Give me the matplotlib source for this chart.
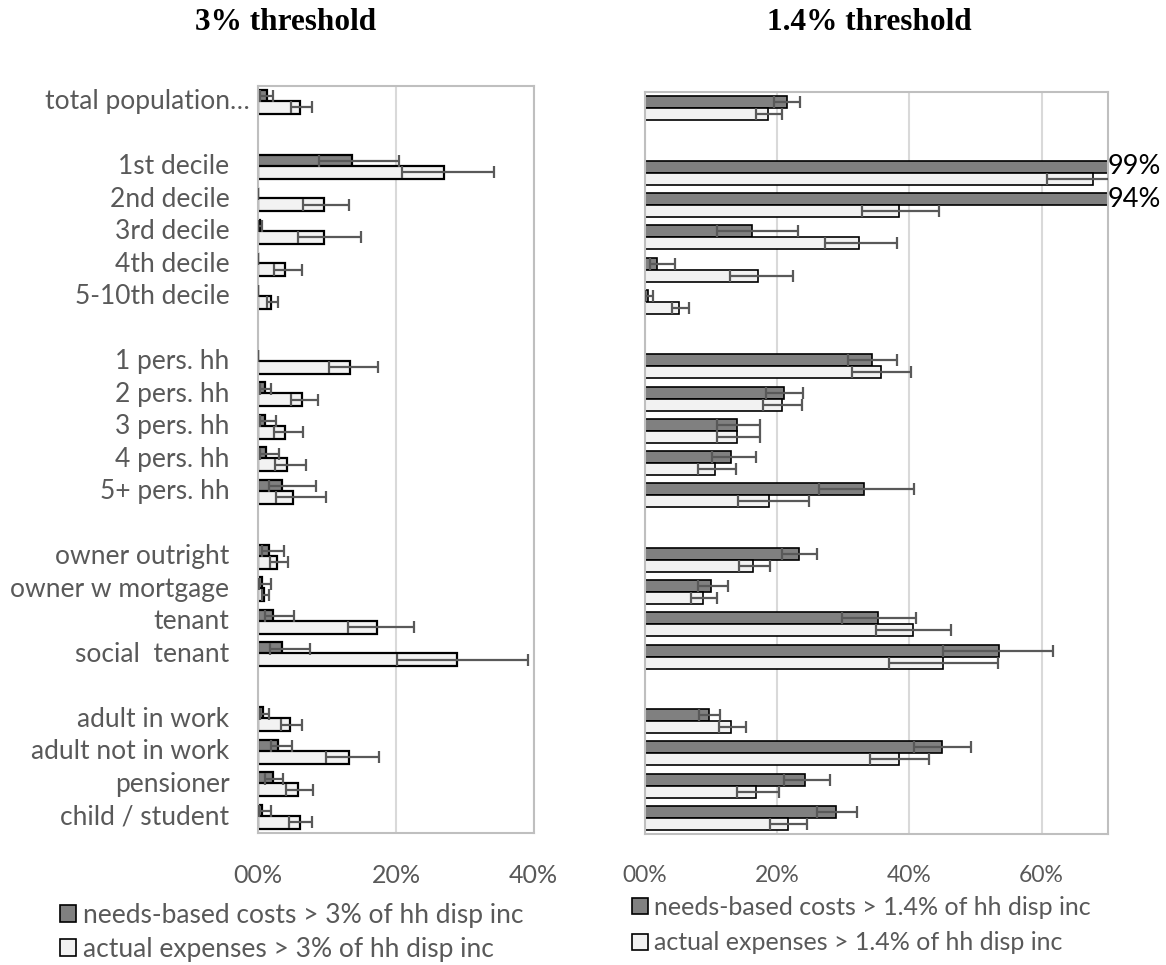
import numpy as np
import matplotlib
matplotlib.use("Agg")
import matplotlib.pyplot as plt
from matplotlib.patches import Patch
import matplotlib.transforms as mtransforms

# ---------------- data ----------------
categories = ["total population…", "", "1st decile", "2nd decile", "3rd decile",
              "4th decile", "5-10th decile", "", "1 pers. hh", "2 pers. hh",
              "3 pers. hh", "4 pers. hh", "5+ pers. hh", "", "owner outright",
              "owner w mortgage", "tenant", "social  tenant", "", "adult in work",
              "adult not in work", "pensioner", "child / student"]
nan = np.nan

# 3% threshold (percent)
needs_3    = [1.2, nan, 13.6, 0.0, 0.2, 0.0, 0.0, nan, 0.0, 1.0, 1.0, 1.1, 3.5, nan, 1.5, 0.5, 2.2, 3.5, nan, 0.7, 2.9, 2.1, 0.6]
needs_3_lo = [0.3, nan, 8.8, 0.0, 0.0, 0.0, 0.0, nan, 0.0, 0.3, 0.3, 0.3, 1.5, nan, 0.5, 0.1, 1.0, 1.7, nan, 0.2, 1.8, 1.0, 0.1]
needs_3_hi = [2.2, nan, 20.4, 0.0, 0.6, 0.0, 0.0, nan, 0.0, 1.9, 2.6, 3.0, 8.4, nan, 3.7, 1.9, 5.2, 7.5, nan, 1.6, 4.9, 3.6, 1.9]
actual_3    = [6.1, nan, 27.0, 9.5, 9.5, 3.9, 1.85, nan, 13.3, 6.4, 3.9, 4.2, 5.1, nan, 2.7, 0.8, 17.2, 28.9, nan, 4.6, 13.2, 5.7, 6.0]
actual_3_lo = [4.7, nan, 20.8, 6.5, 5.8, 2.3, 1.3, nan, 10.2, 4.7, 2.3, 2.4, 2.6, nan, 1.7, 0.5, 13.0, 20.1, nan, 3.3, 9.8, 4.0, 4.5]
actual_3_hi = [7.8, nan, 34.3, 13.2, 14.9, 6.3, 2.9, nan, 17.4, 8.6, 6.5, 6.9, 9.8, nan, 4.3, 1.6, 22.6, 39.2, nan, 6.4, 17.6, 8.0, 7.8]

# 1.4% threshold (percent)
needs_14    = [21.5, nan, 99.0, 94.0, 16.2, 1.9, 0.45, nan, 34.4, 21.1, 13.9, 13.1, 33.2, nan, 23.3, 10.0, 35.3, 53.5, nan, 9.7, 45.0, 24.2, 28.9]
needs_14_lo = [19.6, nan, 99.0, 94.0, 10.9, 0.8, 0.1, nan, 30.8, 18.3, 11.0, 10.2, 26.4, nan, 20.7, 8.0, 29.9, 45.1, nan, 8.2, 40.7, 21.0, 26.0]
needs_14_hi = [23.5, nan, 99.0, 94.0, 23.2, 4.6, 1.3, nan, 38.1, 24.0, 17.4, 16.8, 40.7, nan, 26.1, 12.6, 41.0, 61.7, nan, 11.4, 49.3, 28.0, 32.1]
actual_14    = [18.7, nan, 67.8, 38.5, 32.4, 17.2, 5.2, nan, 35.7, 20.7, 13.9, 10.6, 18.8, nan, 16.4, 8.8, 40.5, 45.1, nan, 13.0, 38.4, 16.9, 21.6]
actual_14_lo = [16.8, nan, 60.8, 32.8, 27.3, 12.9, 4.1, nan, 31.4, 17.9, 11.0, 8.1, 14.1, nan, 14.3, 7.0, 35.0, 37.0, nan, 11.3, 34.0, 14.0, 19.0]
actual_14_hi = [20.8, nan, 75.0, 44.5, 38.1, 22.4, 6.7, nan, 40.3, 23.8, 17.4, 13.8, 24.9, nan, 18.9, 11.0, 46.3, 53.4, nan, 15.3, 43.0, 20.3, 24.6]

ticks_3 = [0, 20, 40]
ticklabels_3 = ["00%", "20%", "40%"]
ticks_14 = [0, 20, 40, 60]
ticklabels_14 = ["00%", "20%", "40%", "60%"]

titles = ["3% threshold", "1.4% threshold"]
legend_3 = ["needs-based costs > 3% of hh disp inc", "actual expenses > 3% of hh disp inc"]
legend_14 = ["needs-based costs > 1.4% of hh disp inc", "actual expenses > 1.4% of hh disp inc"]

# ---------------- style ----------------
FONT = "Lato"
TXT = "#595959"
DARK = "#808080"
LIGHT = "#f2f2f2"

fig = plt.figure(figsize=(11.66, 9.65), dpi=100)

ax1 = fig.add_axes([258.3 / 1166, 1 - 833 / 965, (533.7 - 258.3) / 1166, (833 - 85.7) / 965])
ax2 = fig.add_axes([644.7 / 1166, 1 - 834 / 965, (1107.7 - 644.7) / 1166, (834 - 92.3) / 965])


def panel(ax, needs, nlo, nhi, act, alo, ahi, xmax, ticks, ticklabels, bh, off, lw, tfs, vfs):
    y = np.arange(len(categories))
    needs = np.array(needs, float); nlo = np.array(nlo, float); nhi = np.array(nhi, float)
    act = np.array(act, float); alo = np.array(alo, float); ahi = np.array(ahi, float)
    m = ~np.isnan(needs)
    ax.barh(y[m] - off, needs[m], height=bh, color=DARK, edgecolor="black", linewidth=lw, zorder=2)
    ax.barh(y[m] + off, act[m], height=bh, color=LIGHT, edgecolor="black", linewidth=lw, zorder=2)
    ax.errorbar(needs[m], y[m] - off, xerr=[needs[m] - nlo[m], nhi[m] - needs[m]], fmt="none",
                ecolor=TXT, elinewidth=1.6, capsize=4.5, capthick=1.6, zorder=3)
    ax.errorbar(act[m], y[m] + off, xerr=[act[m] - alo[m], ahi[m] - act[m]], fmt="none",
                ecolor=TXT, elinewidth=1.6, capsize=4.5, capthick=1.6, zorder=3)
    ax.set_xlim(0, xmax)
    ax.set_ylim(len(categories) - 0.5, -0.5)
    ax.set_xticks(ticks)
    ax.set_xticklabels(ticklabels, fontsize=tfs, color=TXT, fontfamily=FONT)
    ax.tick_params(axis="x", length=0, pad=22)
    ax.set_yticks([])
    ax.grid(axis="x", color="#d9d9d9", linewidth=1.5, zorder=0)
    ax.set_axisbelow(True)
    for s in ax.spines.values():
        s.set_color("#bfbfbf")
        s.set_linewidth(1.5)
    # value labels for bars exceeding the axis
    for yi, v in zip(y[m] - off, needs[m]):
        if v > xmax:
            ax.text(xmax, yi, f"{v:.0f}%", va="center", ha="left", fontsize=vfs,
                    color="black", fontfamily=FONT, clip_on=False)


panel(ax1, needs_3, needs_3_lo, needs_3_hi, actual_3, actual_3_lo, actual_3_hi,
      40, ticks_3, ticklabels_3, 0.40, 0.17, 1.6, 18, 19)
panel(ax2, needs_14, needs_14_lo, needs_14_hi, actual_14, actual_14_lo, actual_14_hi,
      70, ticks_14, ticklabels_14, 0.37, 0.185, 1.2, 16.5, 19.5)

# category labels on the left panel
for i, lab in enumerate(categories):
    if not lab:
        continue
    dx = -9 if lab.endswith("…") else -29
    tr = mtransforms.offset_copy(ax1.get_yaxis_transform(), fig=fig, x=dx * 0.72, y=0, units="points")
    ax1.text(0, i, lab, transform=tr, ha="right", va="center", fontsize=19,
             color=TXT, fontfamily=FONT)

# titles
fig.text(286 / 1166, 1 - 22 / 965, titles[0], ha="center", va="center", fontsize=22.5,
         fontweight="bold", fontfamily="Liberation Serif")
fig.text(869 / 1166, 1 - 22 / 965, titles[1], ha="center", va="center", fontsize=22.5,
         fontweight="bold", fontfamily="Liberation Serif")

# legends
handles = [Patch(facecolor=DARK, edgecolor="black", linewidth=1.2),
           Patch(facecolor=LIGHT, edgecolor="black", linewidth=1.2)]


def leg_kw(fs, ls):
    return dict(frameon=False, handlelength=0.62, handleheight=0.62, handletextpad=0.28,
                labelspacing=ls, borderaxespad=0, borderpad=0,
                prop={"family": FONT, "size": fs})


l1 = fig.legend(handles, legend_3, loc="upper right", bbox_to_anchor=(524 / 1166, 1 - 903 / 965), **leg_kw(19, 0.35))
l2 = fig.legend(handles, legend_14, loc="upper left", bbox_to_anchor=(632 / 1166, 1 - 896 / 965), **leg_kw(18, 0.5))
for l in (l1, l2):
    for t in l.get_texts():
        t.set_color(TXT)

fig.savefig("out.png", dpi=100)
